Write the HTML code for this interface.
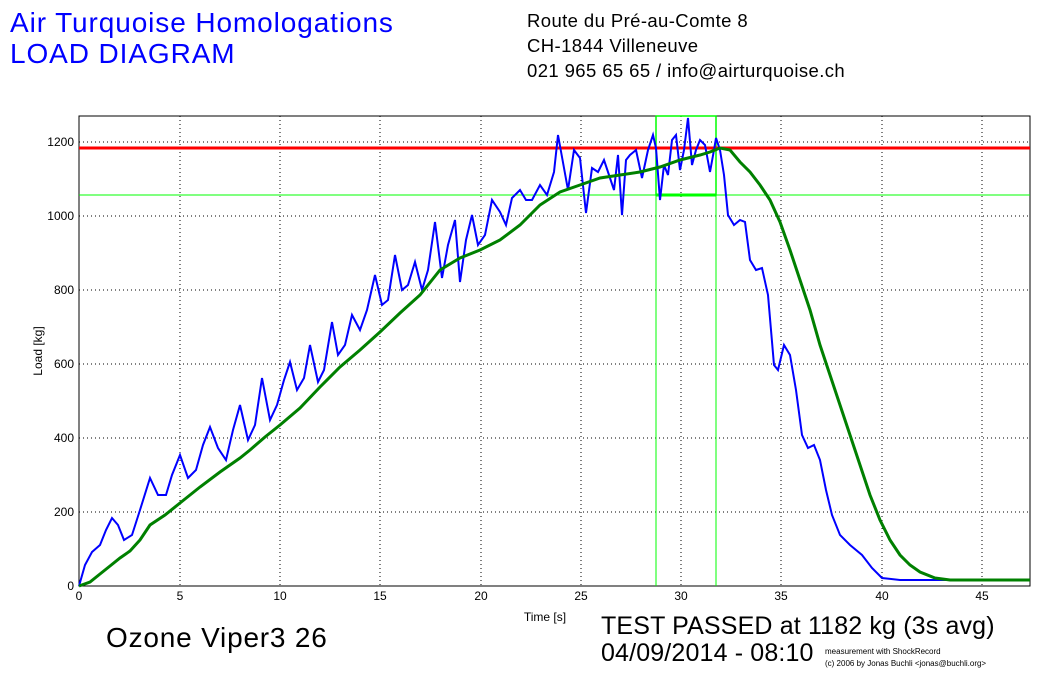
<!DOCTYPE html>
<html><head><meta charset="utf-8"><style>
body{margin:0;width:1055px;height:674px;background:#fff;overflow:hidden;font-family:"Liberation Sans",sans-serif}
.t{position:absolute;white-space:nowrap}
</style></head><body>
<div class="t" style="left:10px;top:7px;font-size:28px;color:#0000ff;line-height:31px;letter-spacing:0.9px">Air Turquoise Homologations<br>LOAD DIAGRAM</div>
<div class="t" style="left:527px;top:8px;font-size:18.5px;line-height:25px;letter-spacing:0.4px">Route du Pré-au-Comte 8<br>CH-1844 Villeneuve<br>021 965 65 65 / info@airturquoise.ch</div>
<svg width="1055" height="674" style="position:absolute;left:0;top:0" font-family="Liberation Sans" font-size="12">
<rect x="79" y="116" width="951" height="470" fill="#fff" stroke="#000"/>
<g stroke="#000" stroke-dasharray="1,3" stroke-width="1">
<line x1="180" y1="116" x2="180" y2="586"/><line x1="280" y1="116" x2="280" y2="586"/><line x1="380" y1="116" x2="380" y2="586"/><line x1="481" y1="116" x2="481" y2="586"/><line x1="581" y1="116" x2="581" y2="586"/><line x1="681" y1="116" x2="681" y2="586"/><line x1="781" y1="116" x2="781" y2="586"/><line x1="882" y1="116" x2="882" y2="586"/><line x1="982" y1="116" x2="982" y2="586"/>
<line x1="79" y1="512" x2="1030" y2="512"/><line x1="79" y1="438" x2="1030" y2="438"/><line x1="79" y1="364" x2="1030" y2="364"/><line x1="79" y1="290" x2="1030" y2="290"/><line x1="79" y1="216" x2="1030" y2="216"/><line x1="79" y1="142" x2="1030" y2="142"/>
</g>
<g text-anchor="middle"><text x="79" y="600">0</text><text x="180" y="600">5</text><text x="280" y="600">10</text><text x="380" y="600">15</text><text x="481" y="600">20</text><text x="581" y="600">25</text><text x="681" y="600">30</text><text x="781" y="600">35</text><text x="882" y="600">40</text><text x="982" y="600">45</text></g>
<g text-anchor="end"><text x="74" y="590">0</text><text x="74" y="516">200</text><text x="74" y="442">400</text><text x="74" y="368">600</text><text x="74" y="294">800</text><text x="74" y="220">1000</text><text x="74" y="146">1200</text></g>
<text x="545" y="621" text-anchor="middle">Time [s]</text>
<text transform="translate(42,351) rotate(-90)" text-anchor="middle">Load [kg]</text>
<line x1="79" y1="195" x2="1030" y2="195" stroke="#00ff00" stroke-width="1"/>
<rect x="656" y="116" width="60" height="79" fill="none" stroke="#00ff00" stroke-width="1.5"/>
<line x1="656" y1="195" x2="716" y2="195" stroke="#00ff00" stroke-width="3"/>
<line x1="656" y1="195" x2="656" y2="586" stroke="#00ff00"/><line x1="716" y1="195" x2="716" y2="586" stroke="#00ff00"/>
<line x1="79" y1="148" x2="1030" y2="148" stroke="#ff0000" stroke-width="3"/>
<polyline fill="none" stroke="#0000ff" stroke-width="2" points="79,586 85,565 92,552 100,545 106,530 112,518 118,525 124,540 132,535 140,510 150,478 158,495 166,495 172,475 180,455 188,478 196,470 203,445 210,427 218,448 226,460 233,430 240,405 248,440 255,425 262,378 270,420 277,405 284,380 290,362 297,390 304,378 310,345 318,382 324,370 332,322 338,355 345,345 352,315 360,330 367,310 375,275 382,305 388,300 395,255 402,290 408,285 415,262 422,290 428,270 435,222 442,278 448,245 455,220 460,282 466,240 472,215 478,245 485,235 492,200 500,212 506,225 512,198 520,190 526,200 532,200 540,185 547,195 554,172 558,135 564,168 568,190 574,150 580,158 586,213 592,168 598,172 604,160 610,178 614,190 618,155 622,215 626,160 630,155 636,150 642,178 648,150 653,135 656,148 660,200 664,165 668,175 672,140 676,135 680,170 684,150 688,118 692,165 696,150 700,140 705,145 710,172 714,150 716,138 720,150 724,175 728,215 734,225 740,220 745,222 750,260 756,270 762,268 768,295 774,365 778,370 784,345 790,355 796,390 802,435 808,448 814,445 820,460 826,490 832,515 840,535 850,545 862,555 872,568 882,578 900,580 1030,580"/>
<polyline fill="none" stroke="#008000" stroke-width="3" points="79,586 90,582 100,574 110,566 120,558 130,551 140,540 150,525 165,515 180,503 200,487 220,472 240,458 250,450 265,437 280,425 300,408 320,387 340,367 360,350 380,332 400,313 420,295 440,270 460,258 480,250 500,240 520,225 540,205 560,192 580,185 600,178 620,175 640,172 660,167 680,160 700,155 710,152 720,148 730,150 740,162 750,172 760,185 770,200 780,222 790,250 800,280 810,310 820,345 830,375 840,405 850,435 860,465 870,495 880,520 890,540 900,555 910,565 920,572 935,578 950,580 1030,580"/>
</svg>
<div class="t" style="left:106px;top:622px;font-size:28px;letter-spacing:0.8px">Ozone Viper3 26</div>
<div class="t" style="left:601px;top:613px;font-size:25px;line-height:27px;letter-spacing:0.15px">TEST PASSED at 1182 kg (3s avg)<br>04/09/2014 - 08:10</div>
<div class="t" style="left:825px;top:646px;font-size:8px;line-height:12px">measurement with ShockRecord<br>(c) 2006 by Jonas Buchli &lt;jonas@buchli.org&gt;</div>
</body></html>
